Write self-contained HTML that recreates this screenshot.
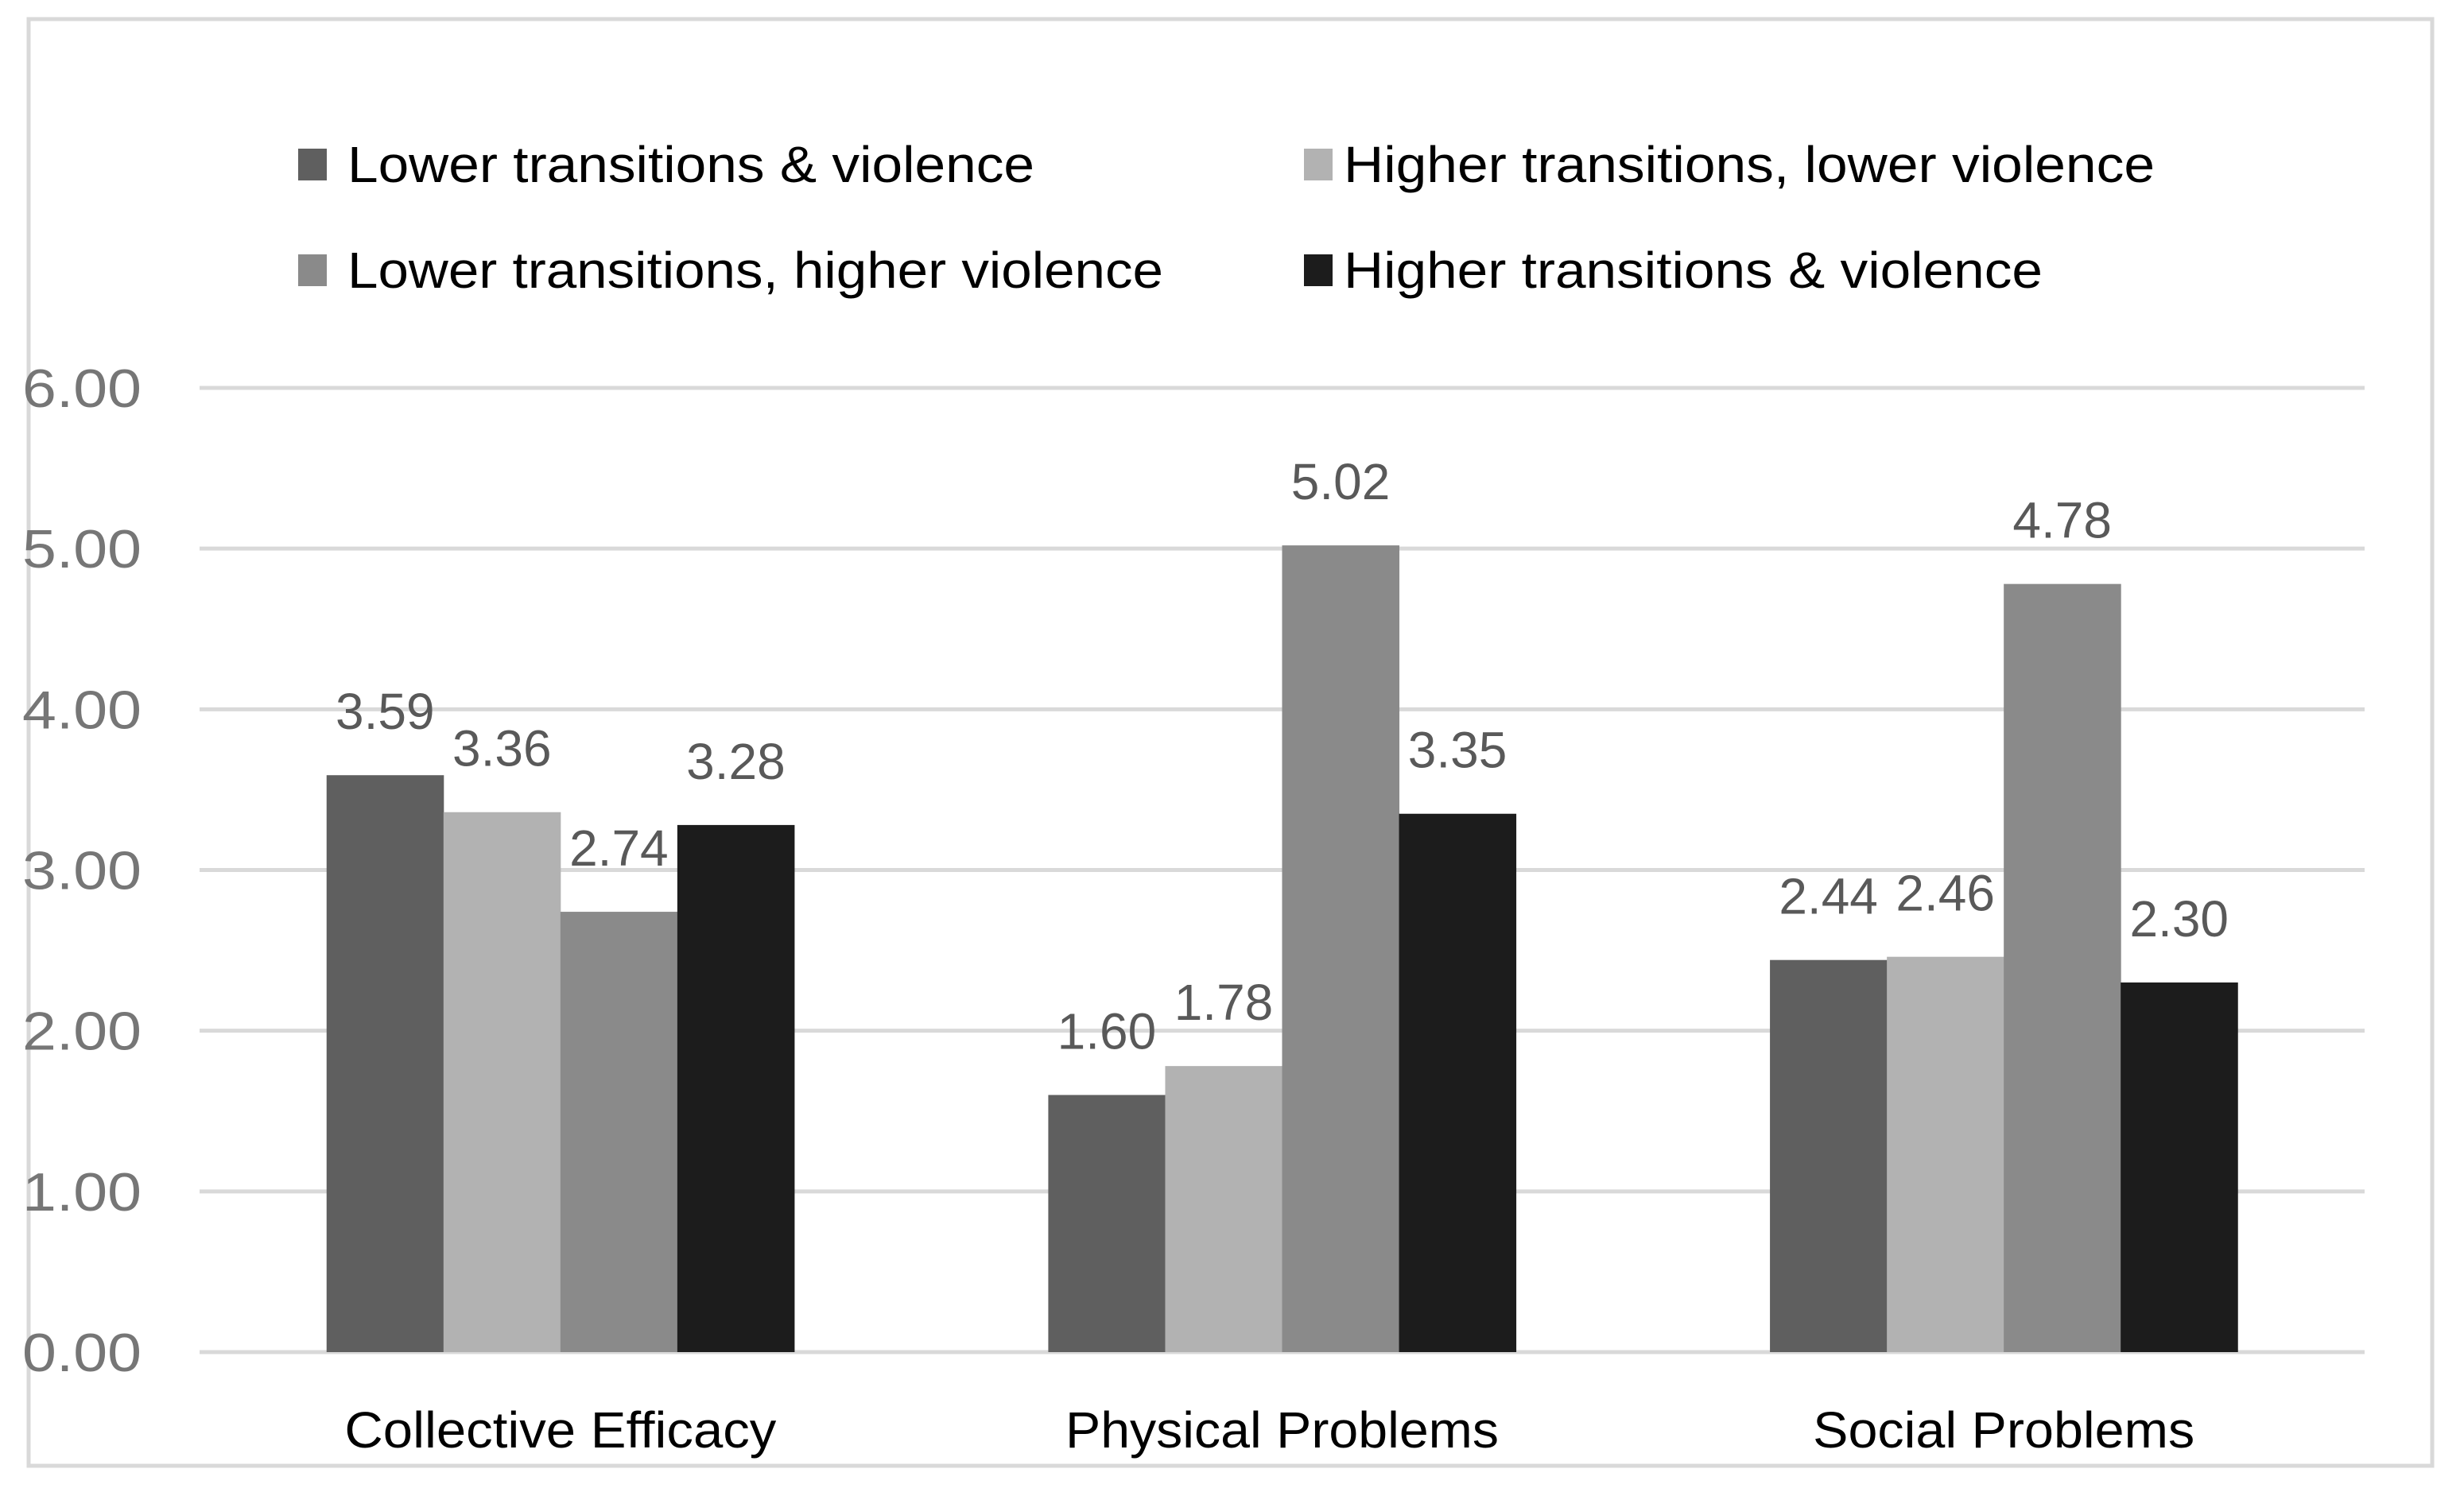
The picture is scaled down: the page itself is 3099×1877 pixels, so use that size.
<!DOCTYPE html>
<html><head><meta charset="utf-8"><style>
html,body{margin:0;padding:0;background:#fff}
svg{display:block;font-family:"Liberation Sans",sans-serif}
</style></head><body>
<svg id="chart" width="3099" height="1877" viewBox="0 0 3099 1877" xmlns="http://www.w3.org/2000/svg">
<rect x="36" y="24" width="3023" height="1820" fill="#fff" stroke="#d9d9d9" stroke-width="5"/>
<g id="grid"></g>
<g id="bars"></g>
<g id="labels"></g>
<g id="xcats"></g>
<g id="legend"></g>
</svg>
<script>
const categories = ["Collective Efficacy", "Physical Problems", "Social Problems"];
const seriesNames = ["Lower transitions & violence", "Higher transitions, lower violence", "Lower transitions, higher violence", "Higher transitions & violence"];
const s1 = [3.59, 1.60, 2.44];
const s2 = [3.36, 1.78, 2.46];
const s3 = [2.74, 5.02, 4.78];
const s4 = [3.28, 3.35, 2.30];
const yTicks = [0, 1, 2, 3, 4, 5, 6];
const yTickLabels = ["0.00", "1.00", "2.00", "3.00", "4.00", "5.00", "6.00"];

const NS = "http://www.w3.org/2000/svg";
const colors = ["#5f5f5f", "#b2b2b2", "#8a8a8a", "#1c1c1c"];
const series = [s1, s2, s3, s4];
const plotL = 251, plotR = 2974, y0 = 1701, yTop = 488, yMax = 6;
const catW = (plotR - plotL) / categories.length;
const barW = catW * 0.162;
const catTextW = [543, 545, 480];
function yScale(v) { return y0 - (v / yMax) * (y0 - yTop); }
function xCenter(i) { return plotL + catW * (i + 0.5); }
function mk(tag, attrs, parent) {
  const e = document.createElementNS(NS, tag);
  for (const k in attrs) e.setAttribute(k, attrs[k]);
  parent.appendChild(e);
  return e;
}
const grid = document.getElementById('grid');
yTicks.forEach((t, i) => {
  const l = mk('line', {x1: plotL, x2: plotR, y1: yScale(t), y2: yScale(t), stroke: '#d9d9d9', 'stroke-width': 5}, grid);
  
  
  const tx = mk('text', {x: 28, y: yScale(t) + 24, 'font-size': 68, fill: '#767676', textLength: 150, lengthAdjust: 'spacingAndGlyphs'}, grid);
  tx.textContent = yTickLabels[i];
  
  
});
const bars = document.getElementById('bars');
const labels = document.getElementById('labels');
categories.forEach((c, ci) => {
  const start = xCenter(ci) - 2 * barW;
  series.forEach((s, si) => {
    const v = s[ci];
    const x = start + si * barW;
    const r = mk('rect', {x: x, y: yScale(v), width: barW + 0.5, height: y0 - yScale(v), fill: colors[si]}, bars);
    
    
    const t = mk('text', {x: x + barW / 2, y: yScale(v) - 58, 'text-anchor': 'middle', 'font-size': 64, fill: '#595959'}, labels);
    t.textContent = v.toFixed(2);
    
    
  });
  const ct = mk('text', {x: xCenter(ci), y: 1821, 'text-anchor': 'middle', 'font-size': 64, fill: '#000', textLength: catTextW[ci], lengthAdjust: 'spacingAndGlyphs'}, document.getElementById('xcats'));
  ct.textContent = c;
  
  
});
const legend = document.getElementById('legend');
const legPos = [[375, 207], [1640, 207], [375, 340], [1640, 340]];
const legTextX = [437, 1690, 437, 1690];
const legW = [864, 1020, 1026, 879];
[0, 1, 2, 3].forEach((si, k) => {
  const [lx, ly] = legPos[k];
  const sq = mk('rect', {x: lx, y: ly - 20, width: 36, height: 40, fill: colors[si]}, legend);
  
  
  const t = mk('text', {x: legTextX[k], y: ly + 22, 'font-size': 64, fill: '#000', textLength: legW[k], lengthAdjust: 'spacingAndGlyphs'}, legend);
  t.textContent = seriesNames[si];
  
  
});
</script>
</body></html>
